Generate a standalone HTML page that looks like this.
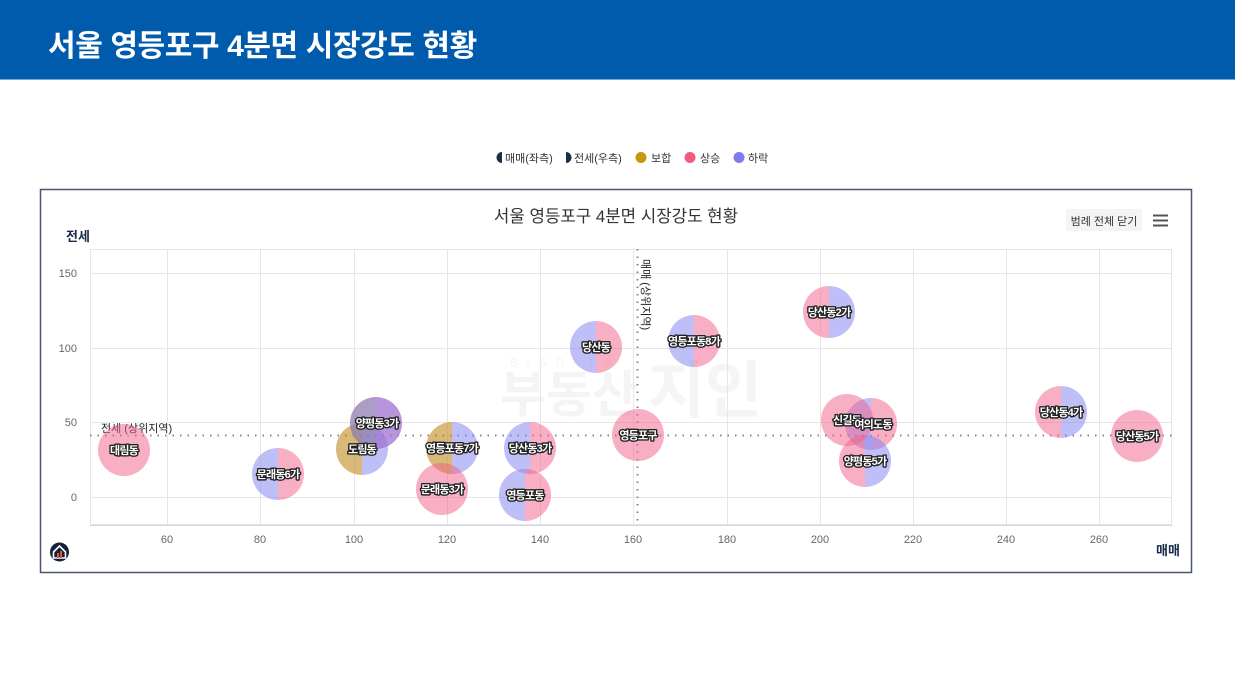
<!DOCTYPE html>
<html><head><meta charset="utf-8">
<style>
html,body{margin:0;padding:0;background:#fff;width:1235px;height:694px;overflow:hidden;}
body{font-family:"Liberation Sans","Noto Sans CJK KR",sans-serif;position:relative;}
.hdr{position:absolute;left:0;top:0;width:1235px;height:79px;background:#005bac;border-bottom:1px solid #7fa3cf;}
.hdr h1{margin:0;position:absolute;left:48px;top:27px;font-size:30px;line-height:40px;font-weight:bold;color:#fff;letter-spacing:-0.4px;font-family:"Liberation Sans","Noto Sans CJK KR",sans-serif;}
svg{position:absolute;left:0;top:0;}
</style></head><body>
<div class="hdr"><h1>서울 영등포구 4분면 시장강도 현황</h1></div>
<svg width="1235" height="694" viewBox="0 0 1235 694" font-family="Liberation Sans, Noto Sans CJK KR, sans-serif">
<!-- legend -->
<g font-size="11" fill="#333">
 <path d="M502,152 A5.5,5.5 0 0 0 502,163 Z" fill="#1f2d4d"/>
 <text x="505" y="162">매매(좌측)</text>
 <path d="M566,152 A5.5,5.5 0 0 1 566,163 Z" fill="#1f2d4d"/>
 <text x="574" y="162">전세(우측)</text>
 <circle cx="641" cy="157.5" r="5.5" fill="#c8970f"/>
 <text x="651" y="162">보합</text>
 <circle cx="690" cy="157.5" r="5.5" fill="#f25a80"/>
 <text x="700" y="162">상승</text>
 <circle cx="739" cy="157.5" r="5.5" fill="#7d7df0"/>
 <text x="748" y="162">하락</text>
</g>
<!-- frame -->
<rect x="40.5" y="189.5" width="1151" height="383" fill="#fff" stroke="#4a5670" stroke-width="1.5"/>
<text x="616" y="222" font-size="16.8" fill="#333" text-anchor="middle">서울 영등포구 4분면 시장강도 현황</text>
<rect x="1066" y="209" width="76" height="22" fill="#f4f4f4" rx="2"/>
<text x="1104" y="225" font-size="11" fill="#333" text-anchor="middle">범례 전체 닫기</text>
<g stroke="#555" stroke-width="2"><line x1="1153" y1="215.5" x2="1168" y2="215.5"/><line x1="1153" y1="220.5" x2="1168" y2="220.5"/><line x1="1153" y1="225.5" x2="1168" y2="225.5"/></g>
<text x="66" y="241" font-size="13" font-weight="bold" fill="#1a2a4a">전세</text>
<text x="1156" y="555" font-size="13" font-weight="bold" fill="#1a2a4a">매매</text>
<!-- watermark -->
<g>
 <text x="510" y="366" font-size="11" letter-spacing="9" fill="#f3f3f3">BIGDATA</text>
 <text x="500" y="412" font-size="50" font-weight="bold" fill="#f4f4f4">부동산</text>
 <text x="648" y="412" font-size="62" font-weight="bold" fill="#f5f5f5">지인</text>
</g>
<!-- plot grid -->
<g stroke="#e6e6e6" stroke-width="1">
 <rect x="90.5" y="249.5" width="1081" height="275" fill="none"/>
 <line x1="167.5" y1="249" x2="167.5" y2="525"/><line x1="260.5" y1="249" x2="260.5" y2="525"/>
 <line x1="354.5" y1="249" x2="354.5" y2="525"/><line x1="447.5" y1="249" x2="447.5" y2="525"/>
 <line x1="540.5" y1="249" x2="540.5" y2="525"/><line x1="633.5" y1="249" x2="633.5" y2="525"/>
 <line x1="727.5" y1="249" x2="727.5" y2="525"/><line x1="820.5" y1="249" x2="820.5" y2="525"/>
 <line x1="913.5" y1="249" x2="913.5" y2="525"/><line x1="1006.5" y1="249" x2="1006.5" y2="525"/>
 <line x1="1099.5" y1="249" x2="1099.5" y2="525"/>
 <line x1="90" y1="273.5" x2="1172" y2="273.5"/><line x1="90" y1="348.5" x2="1172" y2="348.5"/>
 <line x1="90" y1="422.5" x2="1172" y2="422.5"/><line x1="90" y1="497.5" x2="1172" y2="497.5"/>
</g>
<line x1="90" y1="525.5" x2="1172" y2="525.5" stroke="#ccd6eb"/>
<g font-size="11" fill="#666">
 <text x="77" y="277" text-anchor="end">150</text>
 <text x="77" y="352" text-anchor="end">100</text>
 <text x="77" y="426" text-anchor="end">50</text>
 <text x="77" y="501" text-anchor="end">0</text>
 <g text-anchor="middle">
 <text x="167" y="543">60</text><text x="260" y="543">80</text><text x="354" y="543">100</text>
 <text x="447" y="543">120</text><text x="540" y="543">140</text><text x="633" y="543">160</text>
 <text x="727" y="543">180</text><text x="820" y="543">200</text><text x="913" y="543">220</text>
 <text x="1006" y="543">240</text><text x="1099" y="543">260</text>
 </g>
</g>
<!-- reference lines -->
<line x1="90" y1="435.5" x2="1172" y2="435.5" stroke="#888" stroke-width="2" stroke-dasharray="1.5,6"/>
<line x1="637.5" y1="249" x2="637.5" y2="525" stroke="#888" stroke-width="2" stroke-dasharray="1.5,6"/>
<text x="101" y="432" font-size="11" fill="#222" stroke="#fff" stroke-width="2" paint-order="stroke">전세 (상위지역)</text>
<text x="0" y="0" font-size="11" fill="#222" stroke="#fff" stroke-width="2" paint-order="stroke" transform="translate(642,259) rotate(90)">매매 (상위지역)</text>
<!-- bubbles -->
<defs>
<style>
.p{fill:#f25d87;fill-opacity:.5}
.b{fill:#7f7ff0;fill-opacity:.5}
.g{fill:#c08a1e;fill-opacity:.6}
</style>
</defs>
<g id="bubbles">
 <path class="p" d="M124,424 A26,26 0 0 0 124,476 Z"/><path class="p" d="M124,424 A26,26 0 0 1 124,476 Z"/>
 <path class="b" d="M278,448 A26,26 0 0 0 278,500 Z"/><path class="p" d="M278,448 A26,26 0 0 1 278,500 Z"/>
 <path class="g" d="M362,423 A26,26 0 0 0 362,475 Z"/><path class="b" d="M362,423 A26,26 0 0 1 362,475 Z"/>
 <path d="M376,397 A26,26 0 0 0 376,449 Z" fill="#8f7caf" fill-opacity=".75"/><path d="M376,397 A26,26 0 0 1 376,449 Z" fill="#a070d0" fill-opacity=".75"/>
 <path class="g" d="M452,422 A26,26 0 0 0 452,474 Z"/><path class="b" d="M452,422 A26,26 0 0 1 452,474 Z"/>
 <path class="p" d="M442,463 A26,26 0 0 0 442,515 Z"/><path class="p" d="M442,463 A26,26 0 0 1 442,515 Z"/>
 <path class="b" d="M530,422 A26,26 0 0 0 530,474 Z"/><path class="p" d="M530,422 A26,26 0 0 1 530,474 Z"/>
 <path class="b" d="M525,469 A26,26 0 0 0 525,521 Z"/><path class="p" d="M525,469 A26,26 0 0 1 525,521 Z"/>
 <path class="b" d="M596,321 A26,26 0 0 0 596,373 Z"/><path class="p" d="M596,321 A26,26 0 0 1 596,373 Z"/>
 <path class="b" d="M694,315 A26,26 0 0 0 694,367 Z"/><path class="p" d="M694,315 A26,26 0 0 1 694,367 Z"/>
 <path class="p" d="M638,409 A26,26 0 0 0 638,461 Z"/><path class="p" d="M638,409 A26,26 0 0 1 638,461 Z"/>
 <path class="p" d="M829,286 A26,26 0 0 0 829,338 Z"/><path class="b" d="M829,286 A26,26 0 0 1 829,338 Z"/>
 <path class="b" d="M871,398 A26,26 0 0 0 871,450 Z"/><path class="p" d="M871,398 A26,26 0 0 1 871,450 Z"/>
 <path class="p" d="M865,435 A26,26 0 0 0 865,487 Z"/><path class="b" d="M865,435 A26,26 0 0 1 865,487 Z"/>
 <path class="p" d="M847,394 A26,26 0 0 0 847,446 Z"/><path class="p" d="M847,394 A26,26 0 0 1 847,446 Z"/>
 <path class="p" d="M1061,386 A26,26 0 0 0 1061,438 Z"/><path class="b" d="M1061,386 A26,26 0 0 1 1061,438 Z"/>
 <path class="p" d="M1137,410 A26,26 0 0 0 1137,462 Z"/><path class="p" d="M1137,410 A26,26 0 0 1 1137,462 Z"/>
</g>
<g font-size="11" font-weight="bold" fill="#fff" stroke="#222" stroke-width="2.8" stroke-linejoin="round" paint-order="stroke" text-anchor="middle" letter-spacing="-0.8">
 <text x="124" y="454">대림동</text>
 <text x="278" y="478">문래동6가</text>
 <text x="362" y="453">도림동</text>
 <text x="377" y="427">양평동3가</text>
 <text x="452" y="452">영등포동7가</text>
 <text x="442" y="493">문래동3가</text>
 <text x="530" y="452">당산동3가</text>
 <text x="525" y="499">영등포동</text>
 <text x="596" y="351">당산동</text>
 <text x="694" y="345">영등포동8가</text>
 <text x="638" y="439">영등포구</text>
 <text x="829" y="316">당산동2가</text>
 <text x="847" y="424">신길동</text>
 <text x="873" y="428">여의도동</text>
 <text x="865" y="465">양평동5가</text>
 <text x="1061" y="416">당산동4가</text>
 <text x="1137" y="440">당산동5가</text>
</g>
<!-- home logo -->
<circle cx="59.5" cy="552" r="9.5" fill="#13213d"/>
<path d="M53.5,552 L59.5,546 L65.5,552 L65.5,558 L53.5,558 Z" fill="none" stroke="#fff" stroke-width="1.6"/>
<rect x="57" y="553" width="2" height="5" fill="#e8582a"/><rect x="60" y="551" width="2" height="7" fill="#e8582a"/>
</svg>
</body></html>
